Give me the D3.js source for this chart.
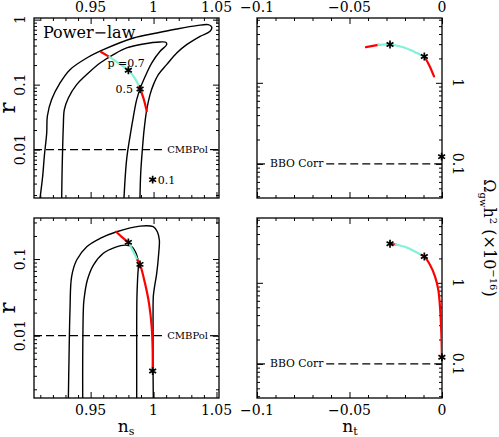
<!DOCTYPE html>
<html><head><meta charset="utf-8">
<script src="https://cdn.jsdelivr.net/npm/d3@7"></script>
<style>body{margin:0;background:#fff}svg{display:block}</style>
</head><body>
<svg id="c" width="499" height="437"></svg>
<script>
// ---------- data ----------
const nsTicks = [0.95, 1, 1.05];
const ntTicks = [-0.1, -0.05, 0];
const rTicks = [0.01, 0.1, 1];
const omegaTicks = [0.1, 1];
const nsTickLabels = ["0.95", "1", "1.05"];
const ntTickLabels = ["\u22120.1", "\u22120.05", "0"];

// top-left (power-law) contours  [n_s, r]
const tlOuter = [[0.9098,0.0018],[0.9119,0.0039],[0.9132,0.0079],[0.9151,0.018],[0.9156,0.0326],[0.919,0.0588],[0.9257,0.106],[0.9336,0.17],[0.9469,0.257],[0.9601,0.345],[0.9840,0.522],[1.0025,0.624],[1.0184,0.718],[1.0343,0.809],[1.0435,0.838],[1.0462,0.771],[1.0449,0.662],[1.0370,0.554],[1.0263,0.412],[1.0184,0.307],[1.0104,0.203],[1.0038,0.1426],[0.9999,0.1],[0.9972,0.0702],[0.9946,0.0412],[0.9925,0.0203],[0.9911,0.01],[0.9898,0.00437],[0.9892,0.0018]];
const tlInner = [[0.9270,0.0018],[0.9273,0.00437],[0.9278,0.01125],[0.9283,0.0229],[0.9291,0.0412],[0.9323,0.0624],[0.9389,0.1],[0.9482,0.151],[0.9575,0.215],[0.9681,0.290],[0.9786,0.367],[0.9919,0.422],[1.0052,0.453],[1.0097,0.448],[1.0104,0.412],[1.0052,0.326],[0.9985,0.215],[0.9946,0.151],[0.9898,0.092],[0.9866,0.0588],[0.9840,0.0326],[0.9813,0.016],[0.9786,0.00702],[0.9765,0.0018]];
const tlRed1 = [[0.9583,0.318],[0.9649,0.267]];
const tlCyan = [[0.9649,0.267],[0.9720,0.215],[0.9800,0.166],[0.9853,0.124],[0.9887,0.092]];
const tlRed2 = [[0.9887,0.092],[0.9919,0.0624],[0.9946,0.0389]];
const tlStars = [[0.980,0.166],[0.9893,0.0857],[0.9993,0.00345]];
const tlStarLabels = ["p =0.7", "0.5", "0.1"];

// top-right  [n_t, Omega]
const trRed1 = [[-0.0411,2.75],[-0.0344,2.94]];
const trCyan = [[-0.0344,2.94],[-0.0281,2.97],[-0.0209,2.75],[-0.0146,2.39],[-0.00955,2.11]];
const trRed2 = [[-0.00955,2.11],[-0.00685,1.64],[-0.00432,1.20]];
const trStars = [[-0.0281,2.97],[-0.00955,2.11],[-0.0002,0.123]];

// bottom-left [n_s, r]
const blOuter = [[0.9323,0.00153],[0.9328,0.0048],[0.9336,0.0216],[0.9349,0.0589],[0.9389,0.097],[0.9469,0.145],[0.9575,0.186],[0.9707,0.227],[0.9892,0.269],[0.9998,0.264],[1.0030,0.227],[1.0046,0.177],[1.0041,0.119],[1.0025,0.065],[1.0006,0.0415],[0.9998,0.0323],[0.9996,0.0177],[0.9996,0.008],[0.9996,0.0036],[0.9998,0.00153]];
const blInner = [[0.9437,0.00153],[0.9437,0.0048],[0.9442,0.0216],[0.9447,0.0292],[0.9474,0.0532],[0.9522,0.0835],[0.9601,0.119],[0.9694,0.142],[0.9773,0.152],[0.9826,0.145],[0.9866,0.113],[0.9879,0.0879],[0.9874,0.0589],[0.9868,0.0323],[0.9866,0.0131],[0.9866,0.0048],[0.9866,0.00153]];
const blRed1 = [[0.9702,0.227],[0.9747,0.195],[0.9800,0.165]];
const blCyan = [[0.9800,0.165],[0.9839,0.125],[0.9871,0.097]];
const blRed2 = [[0.9871,0.097],[0.9892,0.0852],[0.9932,0.0482],[0.9964,0.0264],[0.9985,0.0131],[0.9993,0.0065],[0.9993,0.00347]];
const blStars = [[0.980,0.165],[0.9892,0.0852],[0.9993,0.00347]];

// bottom-right [n_t, Omega]
const brRed1 = [[-0.0281,3.03],[-0.0250,2.97]];
const brCyan = [[-0.0250,2.97],[-0.0191,2.73],[-0.0146,2.44],[-0.0110,2.2]];
const brRed2 = [[-0.0110,2.2],[-0.00955,2.11],[-0.0065,1.67],[-0.0038,1.20],[-0.0020,0.82],[-0.0011,0.51],[-0.0005,0.289],[-0.0002,0.18],[-0.00005,0.121]];
const brStars = [[-0.0281,3.03],[-0.00955,2.11],[-0.00005,0.121]];

const cmbLevel = 0.01, bboLevel = 0.1;

// ---------- drawing ----------
const F = "DejaVu Serif";
const RED = "#ff0000", CYAN = "#7ff2d8";
const svg = d3.select("#c");
svg.append("rect").attr("width",499).attr("height",437).attr("fill","#fff");

const LX = [34, 219], RX = [257, 442], TY = [18, 198], BY = [218, 398];
const xNs = d3.scaleLinear([0.905, 1.052], LX);
const xNt = d3.scaleLinear([-0.1, 0], RX);
const yRtop = d3.scaleLog([0.0018, 1.06], [TY[1], TY[0]]);
const yRbot = d3.scaleLog([0.00154, 0.343], [BY[1], BY[0]]);
const yOtop = d3.scaleLog([0.038, 6.3], [TY[1], TY[0]]);
const yObot = d3.scaleLog([0.038, 6.3], [BY[1], BY[0]]);

function logMinor(y) {
  const [a, b] = y.domain(); const out = [];
  for (let e = -4; e <= 1; e++) for (let k = 2; k <= 9; k++) {
    const v = k * Math.pow(10, e); if (v >= a && v <= b) out.push(v);
  }
  return out;
}
function inDom(s, vals) { const [a, b] = d3.extent(s.domain()); return vals.filter(v => v >= a - 1e-9 && v <= b + 1e-9); }

let clipId = 0;
function panel(x, y, xMajor, xMinor, yMajor) {
  const g = svg.append("g");
  const [x0, x1] = x.range(), [y1, y0] = y.range();
  const ax = (axis, tx, ty, vals, size) => {
    g.append("g").attr("transform", `translate(${tx},${ty})`)
      .call(axis.tickValues(vals).tickSize(size).tickSizeOuter(0).tickFormat(""))
      .call(s => s.select(".domain").remove())
      .call(s => s.selectAll("line").attr("stroke", "#000").attr("stroke-width", 1));
  };
  const yMinor = logMinor(y);
  const ym = inDom(y, yMajor);
  ax(d3.axisBottom(x), 0, y1, xMajor, -6); ax(d3.axisBottom(x), 0, y1, xMinor, -3);
  ax(d3.axisTop(x), 0, y0, xMajor, -6); ax(d3.axisTop(x), 0, y0, xMinor, -3);
  ax(d3.axisLeft(y), x0, 0, ym, -6); ax(d3.axisLeft(y), x0, 0, yMinor, -3);
  ax(d3.axisRight(y), x1, 0, ym, -6); ax(d3.axisRight(y), x1, 0, yMinor, -3);
  g.append("rect").attr("x", x0).attr("y", y0).attr("width", x1 - x0).attr("height", y1 - y0)
    .attr("fill", "none").attr("stroke", "#000").attr("stroke-width", 1.3);
  const id = "clip" + (clipId++);
  svg.append("clipPath").attr("id", id).append("rect").attr("x", x0).attr("y", y0).attr("width", x1 - x0).attr("height", y1 - y0);
  const inner = g.append("g").attr("clip-path", `url(#${id})`);
  return { g, inner, x, y, x0, x1, y0, y1 };
}

const nsMinor = d3.range(91, 106).map(i => i / 100).filter(v => !nsTicks.some(t => Math.abs(t - v) < 1e-9));
const ntMinor = d3.range(-10, 1).map(i => i / 100).filter(v => !ntTicks.some(t => Math.abs(t - v) < 1e-9));

const P = {
  tl: panel(xNs, yRtop, nsTicks, nsMinor, rTicks),
  tr: panel(xNt, yOtop, ntTicks, ntMinor, omegaTicks),
  bl: panel(xNs, yRbot, nsTicks, nsMinor, rTicks),
  br: panel(xNt, yObot, ntTicks, ntMinor, omegaTicks)
};

function curve(p, data, color, width) {
  const line = d3.line().x(d => p.x(d[0])).y(d => p.y(d[1])).curve(d3.curveCatmullRom.alpha(0.5));
  p.inner.append("path").attr("d", line(data)).attr("fill", "none").attr("stroke", color)
    .attr("stroke-width", width).attr("stroke-linejoin", "round").attr("stroke-linecap", "round");
}
function stars(p, data) {
  const sym = d3.symbol(d3.symbolAsterisk, 44);
  p.g.selectAll(null).data(data).join("path")
    .attr("transform", d => `translate(${p.x(d[0])},${p.y(d[1])})`)
    .attr("d", sym).attr("fill", "none").attr("stroke", "#000").attr("stroke-width", 1.7);
}
function dashed(p, level, label, side, fs) {
  const yy = p.y(level);
  const t = p.g.append("text").attr("y", yy).attr("dominant-baseline", "central")
    .style("font-family", F).style("font-size", fs + "px").text(label);
  if (side === "right") { t.attr("x", p.x1 - 11).attr("text-anchor", "end"); }
  else { t.attr("x", p.x0 + 13).attr("text-anchor", "start"); }
  const bb = t.node().getBBox();
  const a = bb.x - 2, b = bb.x + bb.width + 2;
  const dl = (u, v) => p.g.append("line").attr("x1", u).attr("x2", v).attr("y1", yy).attr("y2", yy)
    .attr("stroke", "#000").attr("stroke-width", 1.2).attr("stroke-dasharray", "8,4");
  dl(p.x0, a); dl(b, p.x1);
}

// contours
[[P.tl, tlOuter], [P.tl, tlInner], [P.bl, blOuter], [P.bl, blInner]].forEach(([p, d]) => curve(p, d, "#000", 1.4));
// dashed sensitivity lines
dashed(P.tl, cmbLevel, "CMBPol", "right", 10);
dashed(P.bl, cmbLevel, "CMBPol", "right", 10);
dashed(P.tr, bboLevel, "BBO Corr", "left", 10.8);
dashed(P.br, bboLevel, "BBO Corr", "left", 10.8);
// colored trajectories
[[P.tl, tlRed1, tlCyan, tlRed2], [P.tr, trRed1, trCyan, trRed2], [P.bl, blRed1, blCyan, blRed2], [P.br, brRed1, brCyan, brRed2]]
  .forEach(([p, r1, c, r2]) => { curve(p, r1, RED, 2.2); curve(p, c, CYAN, 2.2); curve(p, r2, RED, 2.2); });
stars(P.tl, tlStars); stars(P.tr, trStars); stars(P.bl, blStars); stars(P.br, brStars);

// star labels (top-left)
const sl = (txt, x, y, anchor) => P.tl.g.append("text").attr("x", x).attr("y", y).attr("text-anchor", anchor)
  .attr("dominant-baseline", "central").style("font-family", F).style("font-size", "11px").text(txt);
sl(tlStarLabels[0], xNs(tlStars[0][0]) - 21, yRtop(tlStars[0][1]) - 7, "start");
sl(tlStarLabels[1], xNs(tlStars[1][0]) - 7, yRtop(tlStars[1][1]) + 1, "end");
sl(tlStarLabels[2], xNs(tlStars[2][0]) + 5, yRtop(tlStars[2][1]) + 1, "start");

// panel title
svg.append("text").attr("x", 43).attr("y", 38).style("font-family", F).style("font-size", "16px").text("Power\u2212law");

// tick labels
const tickTxt = (x, y, txt, rot) => svg.append("text")
  .attr("transform", `translate(${x},${y})` + (rot ? ` rotate(${rot})` : ""))
  .attr("text-anchor", "middle").attr("dominant-baseline", "central")
  .style("font-family", F).style("font-size", "14px").text(txt);
nsTicks.forEach((v, i) => { tickTxt(xNs(v), 7, nsTickLabels[i]); tickTxt(xNs(v), 410, nsTickLabels[i]); });
ntTicks.forEach((v, i) => { tickTxt(xNt(v), 7, ntTickLabels[i]); tickTxt(xNt(v), 410, ntTickLabels[i]); });
inDom(yRtop, rTicks).forEach(v => tickTxt(20, yRtop(v), String(v), -90));
inDom(yRbot, rTicks).forEach(v => tickTxt(20, yRbot(v), String(v), -90));
inDom(yOtop, omegaTicks).forEach(v => tickTxt(458, yOtop(v), String(v), 90));
inDom(yObot, omegaTicks).forEach(v => tickTxt(458, yObot(v), String(v), 90));

// axis titles
const rLab = (cy) => svg.append("text").attr("transform", `translate(15,${cy}) rotate(-90)`)
  .attr("text-anchor", "middle").style("font-family", F).style("font-size", "23px").text("r");
rLab(108); rLab(308);
const nLab = (cx, sub) => {
  const t = svg.append("text").attr("x", cx).attr("y", 432).attr("text-anchor", "middle")
    .style("font-family", F).style("font-size", "17px");
  t.append("tspan").text("n");
  t.append("tspan").attr("dy", 3).style("font-size", "11px").text(sub);
};
nLab(126, "s"); nLab(350, "t");
const title = svg.append("text").attr("transform", "translate(484,238) rotate(90)")
  .attr("text-anchor", "middle").style("font-family", F).style("font-size", "16px");
title.append("tspan").text("\u03a9");
title.append("tspan").attr("dy", 4).style("font-size", "10px").text("gw");
title.append("tspan").attr("dy", -4).text("h");
title.append("tspan").attr("dy", -6).style("font-size", "10px").text("2");
title.append("tspan").attr("dy", 6).text(" (\u00d710");
title.append("tspan").attr("dy", -6).style("font-size", "10px").text("\u221216");
title.append("tspan").attr("dy", 6).text(")");
</script>
</body></html>
